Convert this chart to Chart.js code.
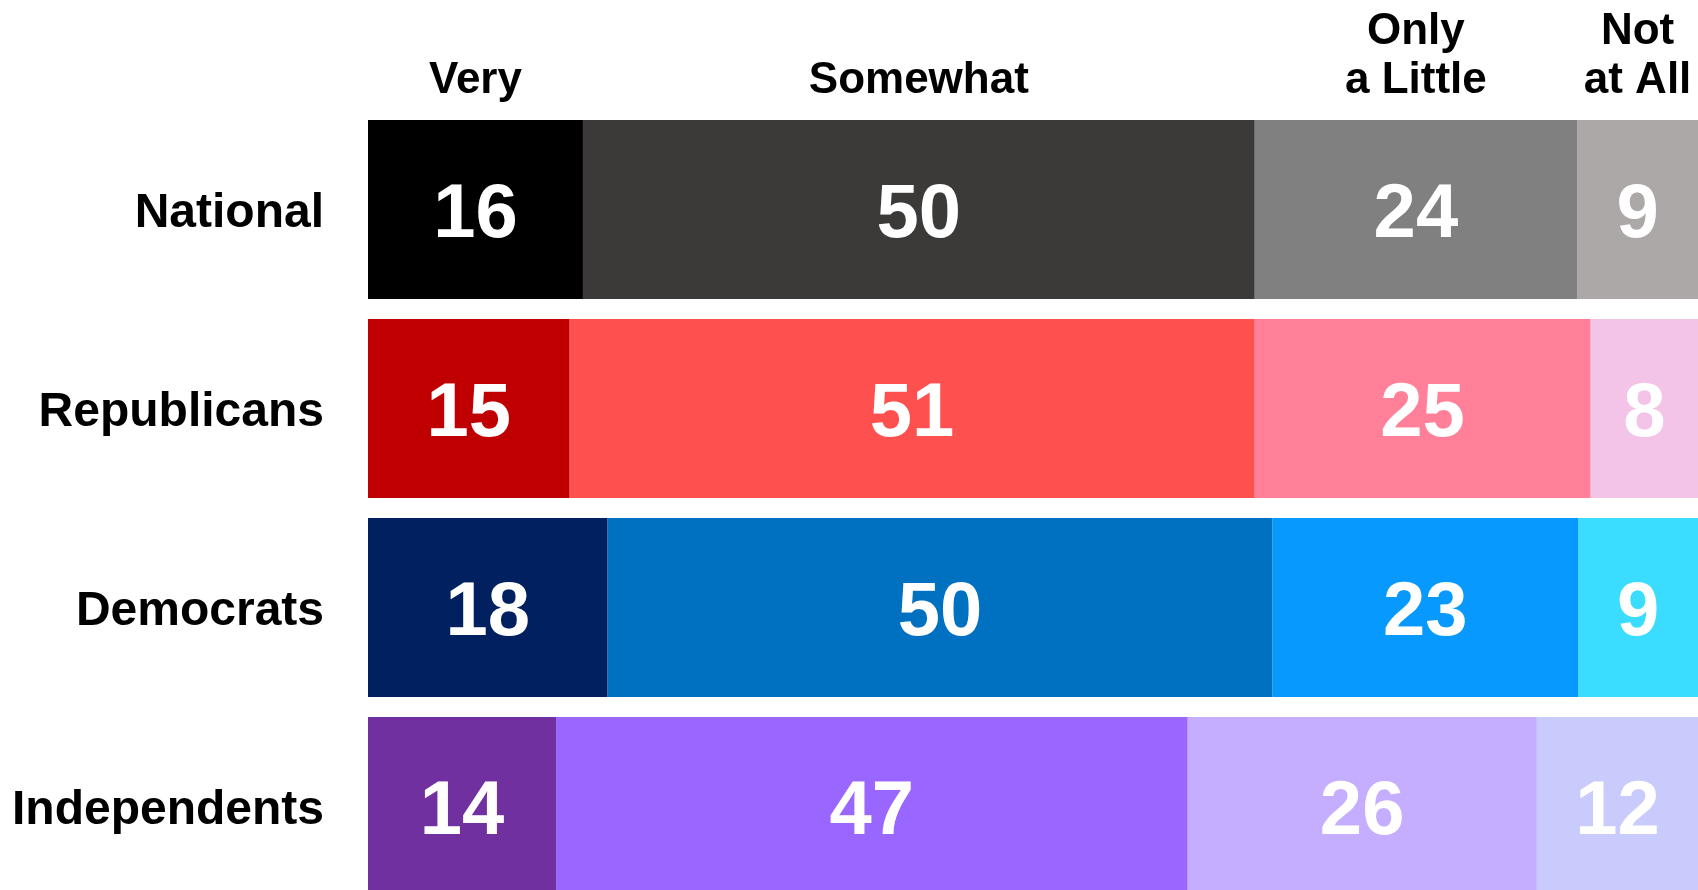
<!DOCTYPE html>
<html>
<head>
<meta charset="utf-8">
<script src="https://cdn.jsdelivr.net/npm/chart.js@4.4.1/dist/chart.umd.min.js"></script>
<style>
  html, body { margin: 0; padding: 0; background: #ffffff; overflow: hidden; }
  #c { display: block; width: 1698px; height: 910px; }
</style>
</head>
<body>
<canvas id="c" width="1698" height="910"></canvas>
<script>
// ---- data ----
const categories = ["National", "Republicans", "Democrats", "Independents"];
const seriesNames = ["Very", "Somewhat", "Only a Little", "Not at All"];
const headerLines = [["Very"], ["Somewhat"], ["Only", "a Little"], ["Not", "at All"]];
const veryValues = [16, 15, 18, 14];
const somewhatValues = [50, 51, 50, 47];
const littleValues = [24, 25, 23, 26];
const notAtAllValues = [9, 8, 9, 12];

const colorsVery = ["#000000", "#C00000", "#002060", "#7030A0"];
const colorsSomewhat = ["#3B3A39", "#FF5050", "#0070C0", "#9966FF"];
const colorsLittle = ["#808080", "#FF8098", "#0899FF", "#C5ADFF"];
const colorsNot = ["#ABA8A7", "#F4C4E8", "#3ADCFF", "#C8CBFC"];

const raw = [veryValues, somewhatValues, littleValues, notAtAllValues];
const cols = [colorsVery, colorsSomewhat, colorsLittle, colorsNot];
const totals = categories.map((_, i) => raw.reduce((s, arr) => s + arr[i], 0));

const FONT = '"Liberation Sans", Arial, Helvetica, sans-serif';

const datasets = raw.map((arr, k) => ({
  label: seriesNames[k],
  data: arr.map((v, i) => v / totals[i] * 100),
  rawValues: arr,
  backgroundColor: cols[k],
  borderWidth: 0,
  barPercentage: 0.9,
  categoryPercentage: 1.0
}));

const labelPlugin = {
  id: 'segLabels',
  afterDatasetsDraw(chart) {
    const ctx = chart.ctx;
    ctx.save();
    ctx.textBaseline = 'alphabetic';
    // category labels (right-aligned, left of the bars)
    const ys = chart.scales.y;
    ctx.fillStyle = '#000000';
    ctx.font = 'bold 48px ' + FONT;
    ctx.textAlign = 'right';
    chart.data.labels.forEach((lab, i) => {
      ctx.fillText(lab, chart.chartArea.left - 44, ys.getPixelForValue(i) + 17);
    });
    // values inside segments
    ctx.fillStyle = '#ffffff';
    ctx.font = 'bold 76px ' + FONT;
    ctx.textAlign = 'center';
    chart.data.datasets.forEach((ds, k) => {
      const meta = chart.getDatasetMeta(k);
      meta.data.forEach((el, i) => {
        const cx = (el.x + el.base) / 2;
        ctx.fillText(String(ds.rawValues[i]), cx, el.y + 27.5);
      });
    });
    // column headers centred on the first row's segments
    const xs = chart.scales.x;
    ctx.fillStyle = '#000000';
    ctx.font = 'bold 44px ' + FONT;
    let cum = 0;
    chart.data.datasets.forEach((ds, k) => {
      const v = ds.data[0];
      const cx = xs.getPixelForValue(cum + v / 2);
      cum += v;
      const lines = headerLines[k];
      const n = lines.length;
      lines.forEach((t, j) => {
        ctx.fillText(t, cx, 92.5 - (n - 1 - j) * 48.5);
      });
    });
    ctx.restore();
  }
};

new Chart(document.getElementById('c'), {
  type: 'bar',
  data: { labels: categories, datasets: datasets },
  plugins: [labelPlugin],
  options: {
    indexAxis: 'y',
    responsive: false,
    maintainAspectRatio: false,
    devicePixelRatio: 1,
    animation: false,
    layout: { padding: { top: 110, bottom: 4, left: 368, right: 0 } },
    plugins: { legend: { display: false }, tooltip: { enabled: false } },
    scales: {
      x: { stacked: true, min: 0, max: 100, display: false },
      y: { stacked: true, display: false }
    }
  }
});
</script>
</body>
</html>
